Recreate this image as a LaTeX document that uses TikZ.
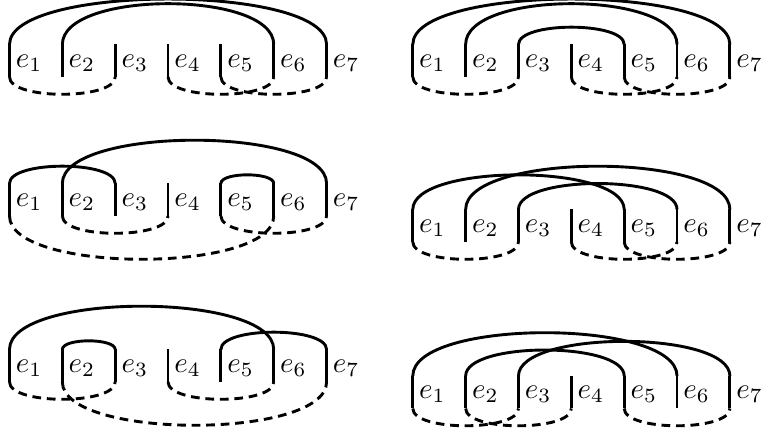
\documentclass[tikz,border=0pt]{standalone}
\usepackage{amsmath}
\usepackage{tikz}

\begin{document}
\begin{tikzpicture}
  [x=0.345pt,y=0.345pt,every node/.style={inner sep=2pt},
   strand/.style={line width=1pt},
   over/.style={strand,out=90,in=90,looseness=0.56},
   under/.style={strand,dash pattern=on 3pt off 2pt,out=-90,in=-90,looseness=0.56}]
  \useasboundingbox (0,0) rectangle (761,432);
  \clip (0,0) rectangle (761,432);

  % panel / left x / top y / top arcs (with looseness) / bottom arcs
  \foreach \p/\x/\y/\tops/\bots in {
      a/9.5/387.5/{1/7/0.49,2/6/0.66}/{1/3,4/6,5/7},
      b/412.8/387.5/{1/7/0.49,2/6/0.66,3/5/0.56}/{1/3,4/6,5/7},
      c/9.5/248.5/{1/3/0.56,2/7/0.56,5/6/0.56}/{1/6,2/4,5/7},
      d/412.8/222.5/{1/5/0.56,2/7/0.56,3/6/0.56}/{1/3,4/6,5/7},
      e/9.5/82.5/{1/6/0.56,2/3/0.56,5/7/0.56}/{1/3,2/7,4/6},
      f/412.8/56/{1/6/0.56,2/5/0.56,3/7/0.56}/{1/3,2/4,5/7}} {
    \foreach \i in {1,...,7} {
      \coordinate (\p t\i) at ({\x+52.85*(\i-1)},\y);
      \coordinate (\p b\i) at ({\x+52.85*(\i-1)},\y-32.5);
      \draw[strand] (\p t\i) -- (\p b\i);
      \node[right] (\p e\i) at ({\x+52.85*(\i-1)},\y-18.5) {$e_{\i}$};
    }
    \foreach \from/\to/\l in \tops
      \draw[over,looseness=\l] (\p t\from) to (\p t\to);
    \foreach \from/\to in \bots
      \draw[under] (\p b\from) to (\p b\to);
  }

\end{tikzpicture}
\end{document}
